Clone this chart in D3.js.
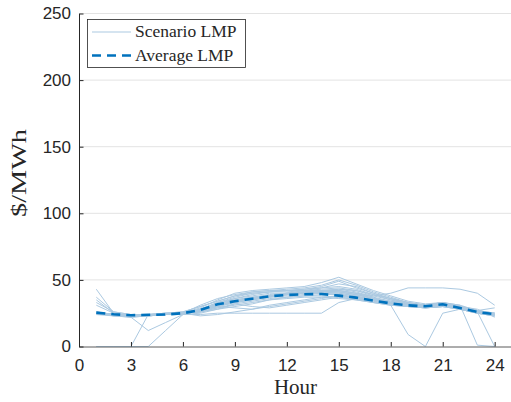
<!DOCTYPE html>
<html>
<head>
<meta charset="utf-8">
<script src="https://cdn.jsdelivr.net/npm/d3@7"></script>
<style>
  html, body { margin: 0; padding: 0; background: #fff; }
  svg { display: block; }
</style>
</head>
<body>
<svg id="chart" width="511" height="402"></svg>
<script>
// Hours of the day
const hours = d3.range(1, 25);

// Scenario LMP profiles ($/MWh), one row per scenario, hours 1..24
const scenarios = [
  [43,25,23,24,24,25,29,35,40,42,43,44,45,48,52,47,42,38,34,32,33,30,27,24],
  [37,26,24,24,25,26,30,34,38,41,42,43,44,46,50,46,41,37,33,31,33,29,26,25],
  [35,25,23,23,24,25,31,36,39,41,42,42,43,45,49,44,40,36,32,30,32,29,26,24],
  [33,26,24,24,24,25,28,33,37,40,41,42,43,44,47,45,40,36,33,31,32,30,27,25],
  [31,25,23,24,25,25,27,32,36,39,41,42,42,43,44,42,38,35,32,31,33,31,27,25],
  [0,0,0,24,25,26,30,34,38,40,41,41,42,42,43,42,39,35,32,31,32,29,26,24],
  [0,0,0,0,12,24,28,33,36,38,40,40,41,41,42,40,37,34,32,31,33,30,27,25],
  [26,24,22,12,18,24,27,31,34,36,38,40,41,42,42,40,36,33,31,30,32,29,26,24],
  [26,24,23,24,25,25,26,30,33,35,37,39,40,41,40,38,35,33,31,30,31,28,25,23],
  [25,24,23,24,24,25,27,31,33,35,37,38,39,40,39,37,34,32,31,30,31,29,26,24],
  [25,24,23,23,24,25,26,29,31,33,35,37,38,38,37,36,34,32,31,30,31,28,25,23],
  [25,23,22,23,24,24,25,28,30,32,35,36,37,37,36,35,33,31,30,29,30,28,25,23],
  [24,24,23,23,24,24,24,25,25,25,25,25,25,25,33,36,35,33,31,30,31,28,26,24],
  [25,23,23,24,24,25,23,24,26,28,30,32,34,36,38,37,35,33,30,29,30,28,26,24],
  [24,23,22,23,24,25,26,28,32,30,29,31,33,35,37,35,33,32,30,29,30,28,25,24],
  [25,24,23,24,24,25,27,30,29,28,31,33,35,37,38,36,33,31,30,29,30,29,26,24],
  [25,24,23,24,24,25,27,32,35,37,39,40,41,42,43,41,37,31,9,0,25,28,25,23],
  [25,24,23,24,24,25,27,31,34,36,38,39,40,41,42,40,38,40,44,44,44,43,40,31],
  [25,24,23,24,24,25,27,31,34,36,38,39,40,41,41,39,36,34,32,31,33,31,1,0],
  [25,24,23,24,24,25,27,31,34,36,38,39,40,41,41,39,36,33,31,30,32,30,26,0],
  [25,24,23,24,24,25,28,32,35,37,38,39,40,41,41,39,36,33,31,31,32,30,27,29],
  [25,24,23,24,24,25,27,31,34,36,38,39,40,40,40,38,35,33,31,30,32,30,28,22],
  [25,24,23,24,24,25,26,29,32,34,36,37,38,39,39,37,35,33,31,30,32,29,26,24],
  [25,24,23,24,24,25,27,30,33,36,38,40,42,44,45,43,39,36,33,31,32,30,27,24]
];

// Average LMP across scenarios ($/MWh)
const averageLMP = [25.4,24.2,23.5,23.8,24.0,25.0,27.4,31.7,34.0,35.9,37.7,38.7,
                    39.2,39.4,38.2,36.7,34.4,32.4,30.9,30.2,31.7,28.9,25.9,24.2];

const xTicks = [0,3,6,9,12,15,18,21,24];
const yTicks = [0,50,100,150,200,250];
const legendLabels = ["Scenario LMP", "Average LMP"];

const svg = d3.select("#chart");
const plotLeft = 79, plotRight = 512, plotTop = 13.5, plotBottom = 346.5;

const x = d3.scaleLinear().domain([0, 25]).range([plotLeft, plotRight]);
const y = d3.scaleLinear().domain([0, 250]).range([plotBottom, plotTop]);

const axisColor = "#262626";
const tickFont = "Liberation Sans, Arial, sans-serif";
const serif = "Liberation Serif, Times New Roman, serif";

// Horizontal grid
svg.append("g")
  .selectAll("line")
  .data(yTicks.filter(d => d > 0))
  .join("line")
  .attr("x1", plotLeft).attr("x2", plotRight)
  .attr("y1", d => y(d)).attr("y2", d => y(d))
  .attr("stroke", "#e3e3e3").attr("stroke-width", 1);

// Scenario lines
const line = d3.line()
  .x((d, i) => x(hours[i]))
  .y(d => y(d));

svg.append("g")
  .selectAll("path")
  .data(scenarios)
  .join("path")
  .attr("d", line)
  .attr("fill", "none")
  .attr("stroke", "#abc9e1")
  .attr("stroke-width", 1);

// Average line
svg.append("path")
  .datum(averageLMP)
  .attr("d", line)
  .attr("fill", "none")
  .attr("stroke", "#0072bd")
  .attr("stroke-width", 2.6)
  .attr("stroke-dasharray", "9,6");

// Bottom axis
const xAxis = d3.axisBottom(x)
  .tickValues(xTicks)
  .tickSize(0)
  .tickPadding(12)
  .tickFormat(d3.format("d"));
const gx = svg.append("g").attr("transform", `translate(0,${plotBottom})`).call(xAxis);
gx.select(".domain").attr("stroke", "#5a5a5a").attr("stroke-width", 1);
gx.selectAll("text").attr("font-family", tickFont).attr("font-size", 17).attr("fill", axisColor);
gx.selectAll(".tick").append("line")
  .attr("y1", 0).attr("y2", -4.5)
  .attr("stroke", axisColor);

// Left axis
const yAxis = d3.axisLeft(y)
  .tickValues(yTicks)
  .tickSize(0)
  .tickPadding(8)
  .tickFormat(d3.format("d"));
const gy = svg.append("g").attr("transform", `translate(${plotLeft},0)`).call(yAxis);
gy.select(".domain").attr("stroke", axisColor).attr("stroke-width", 1);
gy.selectAll("text").attr("font-family", tickFont).attr("font-size", 17).attr("fill", axisColor);
gy.selectAll(".tick").append("line")
  .attr("x1", 0).attr("x2", 4.5)
  .attr("stroke", axisColor);

// Axis titles
svg.append("text")
  .attr("x", x(12.5)).attr("y", 394)
  .attr("text-anchor", "middle")
  .attr("font-family", serif).attr("font-size", 21)
  .attr("fill", axisColor)
  .text("Hour");

svg.append("text")
  .attr("transform", "translate(26,173) rotate(-90)")
  .attr("text-anchor", "middle")
  .attr("font-family", serif).attr("font-size", 22)
  .attr("textLength", 88).attr("lengthAdjust", "spacingAndGlyphs")
  .attr("fill", axisColor)
  .text("$/MWh");

// Legend
const lg = svg.append("g");
lg.append("rect")
  .attr("x", 87.5).attr("y", 19.5).attr("width", 158).attr("height", 48)
  .attr("fill", "#fff").attr("stroke", axisColor).attr("stroke-width", 0.8);
const legendStyles = [
  { stroke: "#abc9e1", width: 1, dash: null },
  { stroke: "#0072bd", width: 2.6, dash: "9,6" }
];
legendLabels.forEach((label, i) => {
  const cy = 32 + i * 23.5;
  lg.append("line")
    .attr("x1", 92).attr("x2", 131)
    .attr("y1", cy).attr("y2", cy)
    .attr("stroke", legendStyles[i].stroke)
    .attr("stroke-width", legendStyles[i].width)
    .attr("stroke-dasharray", legendStyles[i].dash);
  lg.append("text")
    .attr("x", 135).attr("y", cy + 5)
    .attr("font-family", serif).attr("font-size", 17.5)
    .attr("fill", axisColor)
    .text(label);
});
</script>
</body>
</html>
